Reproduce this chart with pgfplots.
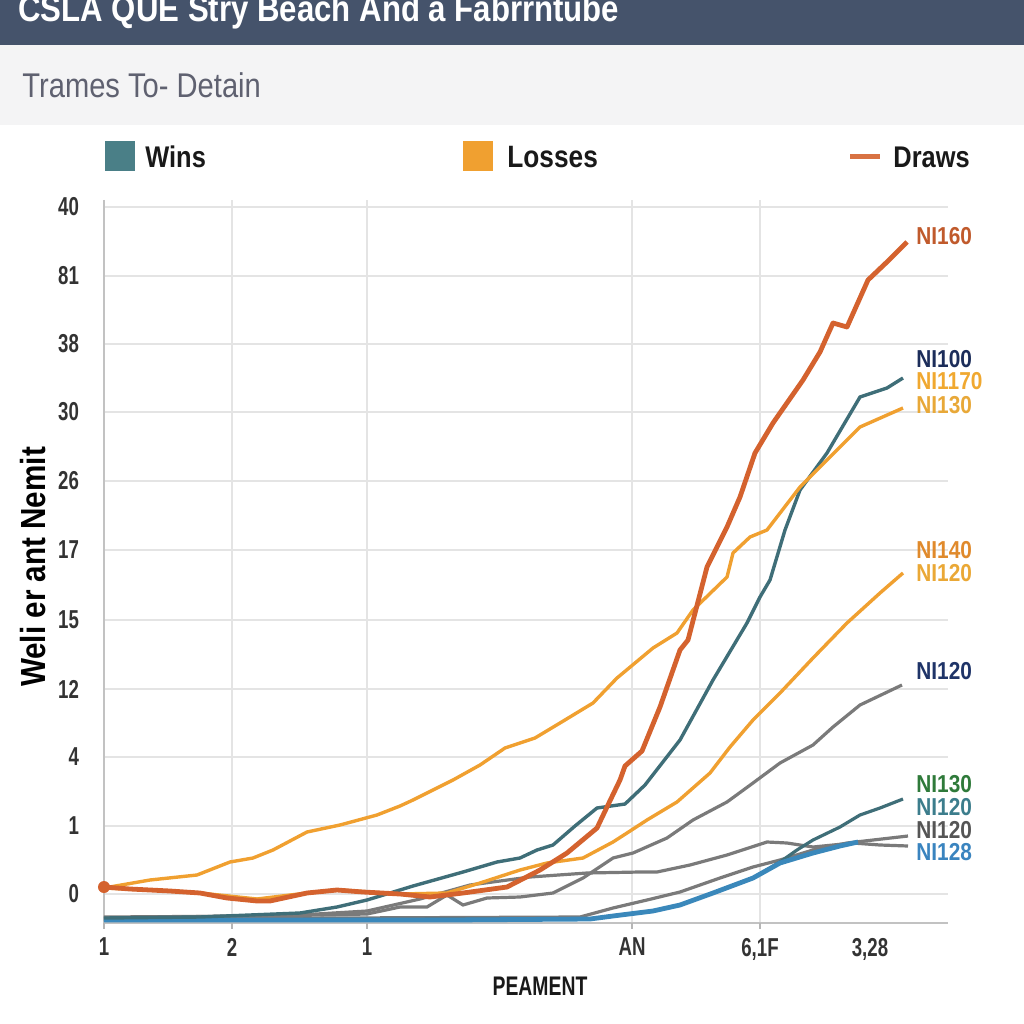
\documentclass[border=0pt]{standalone}
\usepackage{pgfplots}
\pgfplotsset{compat=1.18}
\usepackage{fontspec}
\setmainfont{Liberation Sans}[FakeStretch=0.85]
\newfontfamily\condfont{Liberation Sans}[FakeStretch=0.72]
\definecolor{titlebar}{HTML}{45536B}
\definecolor{subbg}{HTML}{F4F4F5}
\definecolor{subtxt}{HTML}{5F6170}
\definecolor{tickc}{HTML}{333333}
\definecolor{gridc}{HTML}{E4E4E4}
\definecolor{winsc}{HTML}{4A7F87}
\definecolor{lossc}{HTML}{F0A030}
\definecolor{drawc}{HTML}{D4622E}
\definecolor{tealc}{HTML}{3F6E78}
\definecolor{grayc}{HTML}{7A7A7A}
\definecolor{bluec}{HTML}{3A88BB}
\begin{document}
\begin{tikzpicture}
\begin{axis}[
  scale only axis, width=422bp, height=361.5bp,
  xmin=104, xmax=948, ymin=200, ymax=923, y dir=reverse,
  clip=false, axis line style={draw=none}, major tick length=0pt,
  xtick={104,232,367,632,760,870},
  xticklabels={1,2,1,AN,{6,1F},{3,28}},
  ytick={207,276,344,412,481,550,620,689,757,826,894},
  yticklabels={40,81,38,30,26,17,15,12,4,1,0},
  ticklabel style={font=\condfont\bfseries\fontsize{13}{15}\selectfont, text=tickc},
  yticklabel style={xshift=-9bp},
  xticklabel style={yshift=-4bp},
  /pgf/number format/assume math mode=true,
]
% bounding area
\path (axis cs:0,0) rectangle (axis cs:1024,1024);
% header
\fill[titlebar] (axis cs:0,0) rectangle (axis cs:1024,45);
\fill[subbg] (axis cs:0,45) rectangle (axis cs:1024,125);
\node[overlay, anchor=base west, text=white, font=\bfseries\fontsize{18.4}{20}\selectfont, inner sep=0pt] at (axis cs:18,22) {CSLA QUE Stry Beach And a Fabrrntube};
\node[anchor=base west, text=subtxt, font=\fontsize{17.2}{19}\selectfont, inner sep=0pt] at (axis cs:22,98) {Trames To- Detain};
% legend
\fill[winsc] (axis cs:105,141) rectangle (axis cs:135,171);
\node[anchor=west, inner sep=0pt, font=\bfseries\fontsize{15}{17}\selectfont, text=black!90] at (axis cs:145,157) {Wins};
\fill[lossc] (axis cs:463,141) rectangle (axis cs:493,171);
\node[anchor=west, inner sep=0pt, font=\bfseries\fontsize{15.5}{17}\selectfont, text=black!90] at (axis cs:507,157) {Losses};
\draw[drawc!90!white, line width=2.5bp] (axis cs:850,157) -- (axis cs:880,157);
\node[anchor=west, inner sep=0pt, font=\bfseries\fontsize{15}{17}\selectfont, text=black!90] at (axis cs:893,157) {Draws};
% grid
\pgfplotsinvokeforeach{207,276,344,412,481,550,620,689,757,826,894}{
  \draw[gridc, line width=0.9bp] (axis cs:104,#1) -- (axis cs:948,#1);}
\pgfplotsinvokeforeach{232,367,632,760}{
  \draw[gridc, line width=0.9bp] (axis cs:#1,200) -- (axis cs:#1,923);}
\draw[gridc!85!black, line width=0.9bp] (axis cs:104,200) -- (axis cs:104,923);
\draw[gridc!85!black, line width=1.2bp] (axis cs:104,923) -- (axis cs:948,923);
\pgfplotsinvokeforeach{104,232,367,632,760}{
  \draw[gridc!80!black, line width=0.8bp] (axis cs:#1,923) -- (axis cs:#1,929);}
% axis titles
\node[rotate=90, font=\bfseries\fontsize{17.5}{19}\selectfont, text=black] at (axis cs:33,567) {Weli er ant Nemit};
\node[font=\condfont\bfseries\fontsize{13.5}{15}\selectfont, text=black!90] at (axis cs:540,986) {PEAMENT};

% ---- series ----
\addplot[grayc, line width=1.6bp] table {
x y
104 917
270 916
367 914
400 907
427 907
447 895
463 905
487 898
520 897
553 893
583 878
613 858
633 853
667 838
693 820
727 802
753 783
780 763
813 745
833 727
860 705
902 685
};
\addplot[grayc, line width=1.6bp] table {
x y
104 918
300 915
367 911
420 899
470 885
530 877
587 873
640 872
657 872
690 865
727 855
767 842
787 843
813 847
853 843
880 845
908 846
};
\addplot[grayc, line width=1.6bp] table {
x y
104 919
580 917
613 908
647 900
680 892
720 878
753 867
780 860
813 850
847 843
908 836
};
\addplot[tealc, line width=1.6bp] table {
x y
104 920
590 919
613 916
653 911
680 905
713 893
753 878
780 862
797 850
813 840
840 827
860 815
880 808
903 799
};
\addplot[bluec, line width=2.4bp] table {
x y
104 920
300 920
450 920
590 919
613 916
653 911
680 905
713 893
753 878
780 863
813 853
840 846
858 842
};
\addplot[tealc, line width=1.7bp] table {
x y
104 918
200 917
300 913
337 907
367 900
413 886
463 872
497 862
520 858
537 850
553 845
575 826
597 808
625 804
645 785
680 740
713 680
747 623
760 597
770 580
785 530
800 490
827 453
860 397
887 388
903 378
};
\addplot[lossc, line width=1.7bp] table {
x y
104 888
150 890
200 893
257 899
307 893
340 890
400 894
447 893
480 883
520 870
547 863
583 858
613 842
627 833
647 820
677 802
710 773
730 747
753 720
780 693
813 658
847 623
880 593
903 573
};
\addplot[lossc, line width=1.7bp] table {
x y
104 888
150 880
197 875
230 862
253 858
273 850
307 832
340 825
377 815
400 806
413 800
453 780
480 765
505 748
535 738
560 723
593 703
617 678
653 648
677 633
693 610
727 577
733 553
750 537
767 530
800 487
827 460
860 427
903 408
};
\addplot[drawc, line width=2.4bp, line join=round] table {
x y
104 887
130 889
170 891
200 893
227 898
257 901
270 901
307 893
337 890
363 892
400 894
430 897
463 893
507 887
540 870
567 853
597 828
607 807
620 780
625 766
642 751
660 707
680 650
688 640
707 567
727 527
740 497
755 453
773 423
803 380
820 352
833 323
847 327
868 280
888 261
907 242
};
\fill[drawc] (axis cs:104,887) circle (3bp);
% end labels
\begin{scope}[every node/.style={anchor=west, inner sep=0pt, font=\bfseries\fontsize{12.3}{14}\selectfont}]
\node[text={rgb,255:red,192;green,90;blue,44}] at (axis cs:916,236) {NI160};
\node[text={rgb,255:red,28;green,45;blue,90}] at (axis cs:916,359) {NI100};
\node[text={rgb,255:red,240;green,168;blue,48}] at (axis cs:916,381) {NI1170};
\node[text={rgb,255:red,232;green,168;blue,56}] at (axis cs:916,405) {NI130};
\node[text={rgb,255:red,224;green,138;blue,44}] at (axis cs:916,550) {NI140};
\node[text={rgb,255:red,234;green,168;blue,54}] at (axis cs:916,573) {NI120};
\node[text={rgb,255:red,31;green,52;blue,104}] at (axis cs:916,671) {NI120};
\node[text={rgb,255:red,47;green,122;blue,58}] at (axis cs:916,784) {NI130};
\node[text={rgb,255:red,60;green,125;blue,140}] at (axis cs:916,807) {NI120};
\node[text={rgb,255:red,85;green,85;blue,85}] at (axis cs:916,830) {NI120};
\node[text={rgb,255:red,58;green,132;blue,191}] at (axis cs:916,852) {NI128};
\end{scope}
\end{axis}
\end{tikzpicture}
\end{document}
